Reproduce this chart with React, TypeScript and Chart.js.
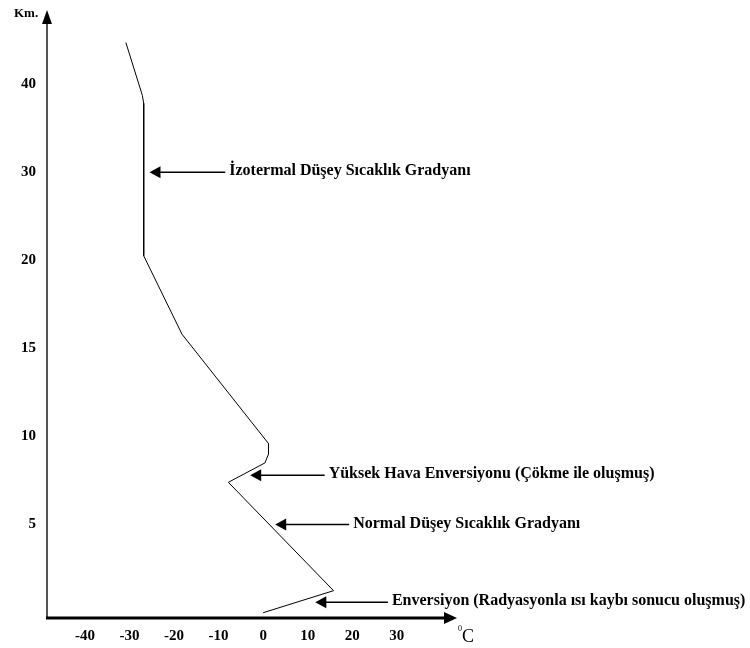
import React, { useEffect, useRef } from "react";
import { Chart, registerables } from "chart.js";

Chart.register(...registerables);

// Temperature profile (°C) against altitude (km)
const temperatures = [-30.8, -27.1, -26.8, -26.8, -18.2, 1.2, 1.2, 0.4, -7.8, 15.8, 0];
const altitudesKm = [44.7, 38.7, 37.8, 20.5, 15.8, 9.6, 9.0, 8.5, 7.4, 1.25, 0];

// Axis ticks
const kmTicks = [5, 10, 15, 20, 30, 40];
const tempTicks = [-40, -30, -20, -10, 0, 10, 20, 30];

// Annotations
const noteLabels = [
  "İzotermal Düşey Sıcaklık Gradyanı",
  "Yüksek Hava Enversiyonu (Çökme ile oluşmuş)",
  "Normal Düşey Sıcaklık Gradyanı",
  "Enversiyon (Radyasyonla ısı kaybı sonucu oluşmuş)",
];
const noteTipTemps = [-25.5, -2.9, 2.7, 11.7];
const noteTipKms = [30, 7.8, 5, 0.6];
const noteTextTemps = [-7.6, 14.7, 20.2, 28.9];

// schematic (non-uniform) km axis: each tick occupies one equal slot
const kmStops = [0, ...kmTicks];
function kmToSlot(km: number): number {
  for (let i = 1; i < kmStops.length; i++) {
    if (km <= kmStops[i]) {
      const a = kmStops[i - 1];
      const b = kmStops[i];
      return i - 1 + (km - a) / (b - a);
    }
  }
  const n = kmStops.length - 1;
  return n + (km - kmStops[n]) / (kmStops[n] - kmStops[n - 1]);
}

const SERIF = '"Liberation Serif", "Times New Roman", serif';

const overlayPlugin = {
  id: "overlay",
  afterDraw(chart: any) {
    const { ctx, chartArea, scales } = chart;
    const xs = scales.x;
    const ys = scales.y;
    const left = chartArea.left;
    const top = chartArea.top;
    const right = chartArea.right;
    const bottom = chartArea.bottom;
    ctx.save();

    // y axis
    ctx.strokeStyle = "#555";
    ctx.lineWidth = 2;
    ctx.beginPath();
    ctx.moveTo(left, bottom);
    ctx.lineTo(left, top + 12);
    ctx.stroke();
    ctx.fillStyle = "#000";
    ctx.beginPath();
    ctx.moveTo(left, top);
    ctx.lineTo(left - 5, top + 14);
    ctx.lineTo(left + 5, top + 14);
    ctx.closePath();
    ctx.fill();

    // x axis
    ctx.strokeStyle = "#000";
    ctx.lineWidth = 3;
    ctx.beginPath();
    ctx.moveTo(left - 1, bottom);
    ctx.lineTo(right - 10, bottom);
    ctx.stroke();
    ctx.beginPath();
    ctx.moveTo(right, bottom);
    ctx.lineTo(right - 13, bottom - 6);
    ctx.lineTo(right - 13, bottom + 6);
    ctx.closePath();
    ctx.fill();

    // tick labels
    ctx.fillStyle = "#000";
    ctx.font = `bold 15px ${SERIF}`;
    ctx.textBaseline = "middle";
    ctx.textAlign = "right";
    kmTicks.forEach((k) => {
      ctx.fillText(String(k), left - 11, ys.getPixelForValue(kmToSlot(k)));
    });
    ctx.textAlign = "center";
    tempTicks.forEach((t) => {
      ctx.fillText(String(t), xs.getPixelForValue(t), bottom + 18);
    });

    // Km. label
    ctx.font = `bold 13px ${SERIF}`;
    ctx.textAlign = "left";
    ctx.fillText("Km.", 14, 14);

    // unit
    ctx.font = `8px ${SERIF}`;
    ctx.fillText("0", right + 1, bottom + 11);
    ctx.font = `18px ${SERIF}`;
    ctx.fillText("C", right + 5, bottom + 19);

    // annotations
    noteLabels.forEach((label, i) => {
      const tx = xs.getPixelForValue(noteTipTemps[i]);
      const ty = ys.getPixelForValue(kmToSlot(noteTipKms[i]));
      const sx = xs.getPixelForValue(noteTextTemps[i]);
      ctx.strokeStyle = "#000";
      ctx.lineWidth = 1.5;
      ctx.beginPath();
      ctx.moveTo(tx + 8, ty);
      ctx.lineTo(sx - 4, ty);
      ctx.stroke();
      ctx.beginPath();
      ctx.moveTo(tx, ty);
      ctx.lineTo(tx + 11, ty - 6);
      ctx.lineTo(tx + 11, ty + 6);
      ctx.closePath();
      ctx.fill();
      ctx.font = `bold 16px ${SERIF}`;
      ctx.textAlign = "left";
      ctx.textBaseline = "middle";
      ctx.fillText(label, sx, ty - 1);
    });

    ctx.restore();
  },
};

export default function App() {
  const canvasRef = useRef<HTMLCanvasElement | null>(null);

  useEffect(() => {
    document.body.style.margin = "0";
    const canvas = canvasRef.current;
    if (!canvas) return;
    const points = temperatures.map((t, i) => ({ x: t, y: kmToSlot(altitudesKm[i]) }));
    const chart = new Chart(canvas, {
      type: "scatter",
      data: {
        datasets: [
          {
            label: "Sıcaklık",
            data: points,
            showLine: true,
            borderColor: "#000",
            borderWidth: 1,
            pointRadius: 0,
            tension: 0,
            fill: false,
          },
        ],
      },
      options: {
        responsive: false,
        animation: false,
        layout: { padding: { left: 47, right: 293, top: 10, bottom: 30 } },
        plugins: {
          legend: { display: false },
          tooltip: { enabled: false },
        },
        scales: {
          x: { type: "linear", min: -48.5, max: 43.5, display: false },
          y: { type: "linear", min: -0.06, max: 6.84, display: false },
        },
      },
      plugins: [overlayPlugin],
    });
    return () => chart.destroy();
  }, []);

  return (
    <div style={{ width: 750, height: 648, background: "#fff" }}>
      <canvas ref={canvasRef} width={750} height={648} style={{ display: "block" }} />
    </div>
  );
}
